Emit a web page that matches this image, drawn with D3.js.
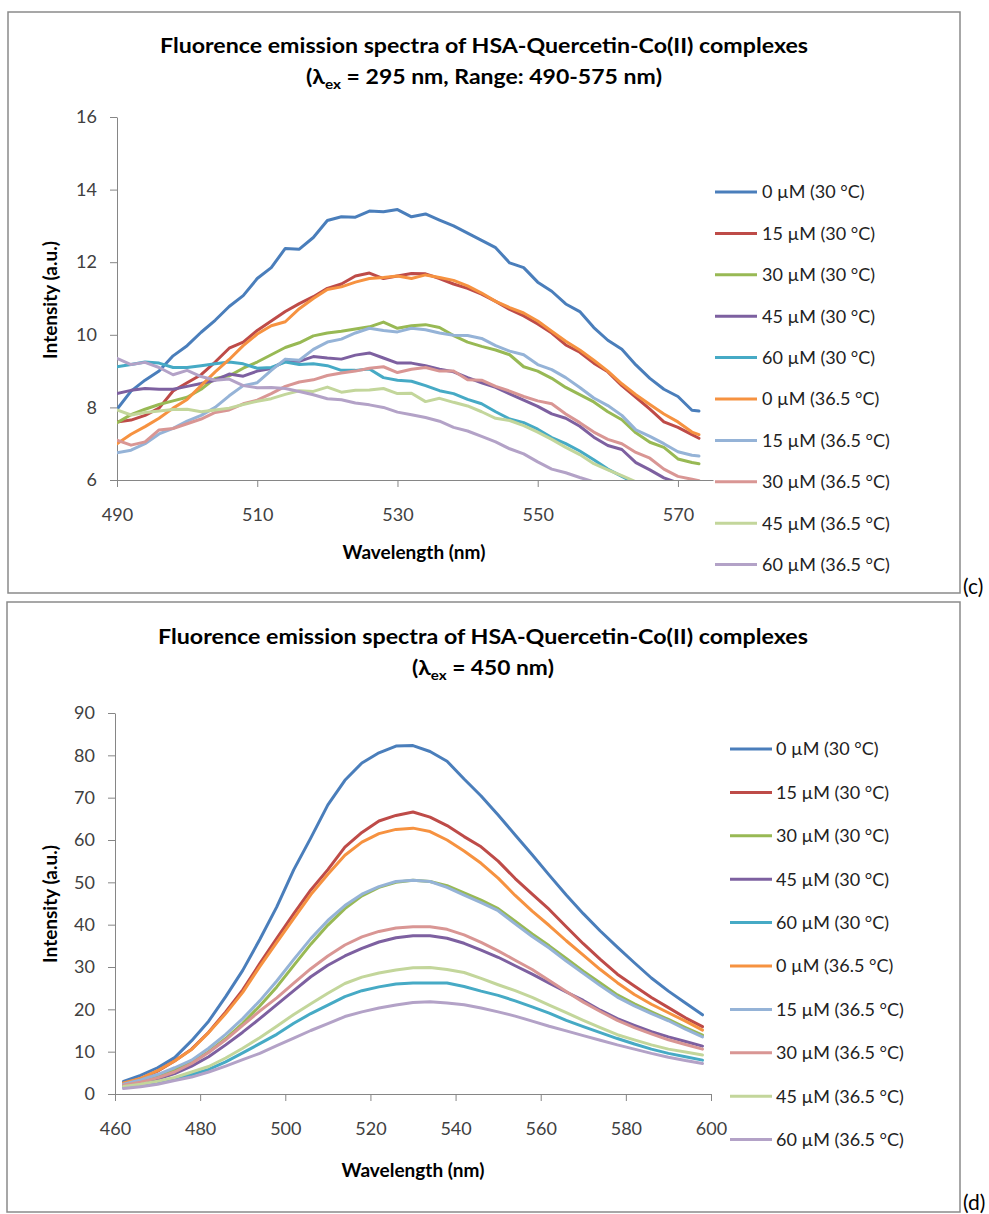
<!DOCTYPE html>
<html>
<head>
<meta charset="utf-8">
<script src="https://cdn.jsdelivr.net/npm/d3@7"></script>
<style>
  body { margin: 0; background: #fff; }
  svg text { font-family: Lato, "Liberation Sans", sans-serif; }
</style>
</head>
<body>
<svg id="fig" width="989" height="1214"></svg>
<script>
// legend labels and line colours (same for both panels)
const seriesNames = ["0 µM (30 °C)", "15 µM (30 °C)", "30 µM (30 °C)", "45 µM (30 °C)", "60 µM (30 °C)",
                     "0 µM (36.5 °C)", "15 µM (36.5 °C)", "30 µM (36.5 °C)", "45 µM (36.5 °C)", "60 µM (36.5 °C)"];
const seriesColors = ["#4a7ebb", "#be4b48", "#98b954", "#7d60a0", "#46aac5",
                      "#f69240", "#95b3d7", "#d99694", "#c3d69b", "#b3a2c7"];

// ---- panel (c): lambda_ex = 295 nm ----
const wlC = [490,492,494,496,498,500,502,504,506,508,510,512,514,516,518,520,522,524,526,528,530,
             532,534,536,538,540,542,544,546,548,550,552,554,556,558,560,562,564,566,568,570,572,573];
const c0_30  = [7.95,8.45,8.75,9.0,9.42,9.7,10.07,10.4,10.78,11.08,11.55,11.85,12.38,12.36,12.68,13.15,13.25,13.24,13.41,13.39,13.45,
                13.25,13.33,13.16,13.0,12.8,12.6,12.4,11.98,11.85,11.45,11.2,10.85,10.64,10.2,9.85,9.6,9.17,8.8,8.5,8.3,7.92,7.9];
const c15_30 = [7.6,7.65,7.78,7.98,8.45,8.68,8.9,9.25,9.63,9.8,10.12,10.38,10.64,10.86,11.05,11.28,11.4,11.62,11.7,11.55,11.62,
                11.69,11.68,11.55,11.4,11.28,11.12,10.92,10.7,10.52,10.3,10.05,9.72,9.52,9.22,8.98,8.6,8.28,7.95,7.6,7.45,7.25,7.15];
const c30_30 = [7.58,7.8,7.95,8.08,8.18,8.28,8.5,8.8,8.87,9.08,9.25,9.45,9.65,9.78,9.97,10.05,10.1,10.16,10.22,10.35,10.18,
                10.25,10.28,10.2,9.98,9.8,9.68,9.58,9.45,9.12,9.0,8.8,8.55,8.35,8.15,7.88,7.66,7.3,7.04,6.9,6.58,6.48,6.45];
const c45_30 = [8.38,8.47,8.52,8.5,8.5,8.58,8.66,8.75,8.92,8.86,9.0,9.07,9.28,9.27,9.4,9.36,9.33,9.44,9.5,9.36,9.22,
                9.22,9.15,9.05,8.98,8.82,8.68,8.55,8.37,8.2,8.03,7.82,7.7,7.48,7.18,6.95,6.84,6.48,6.28,6.06,5.92,5.78,5.7];
const c60_30 = [9.12,9.18,9.25,9.22,9.1,9.1,9.15,9.2,9.25,9.2,9.08,9.1,9.25,9.18,9.2,9.15,9.02,9.02,9.06,8.82,8.75,
                8.72,8.6,8.46,8.38,8.22,8.1,7.88,7.68,7.58,7.4,7.17,7.0,6.8,6.56,6.3,6.1,5.9,5.7,5.5,5.3,5.1,5.0];
const c0_36  = [7.0,7.26,7.47,7.7,7.98,8.22,8.6,8.98,9.32,9.7,10.02,10.25,10.36,10.72,11.0,11.25,11.32,11.45,11.55,11.58,11.62,
                11.55,11.65,11.58,11.5,11.35,11.15,10.92,10.75,10.6,10.38,10.1,9.82,9.58,9.3,9.0,8.65,8.35,8.08,7.82,7.6,7.32,7.25];
const c15_36 = [6.75,6.82,7.0,7.27,7.42,7.62,7.78,8.0,8.32,8.6,8.68,9.02,9.33,9.3,9.6,9.8,9.88,10.05,10.18,10.12,10.08,
                10.18,10.14,10.05,9.99,9.98,9.9,9.7,9.55,9.45,9.18,9.04,8.82,8.55,8.26,8.05,7.78,7.38,7.2,7.0,6.78,6.68,6.66];
const c30_36 = [7.1,6.96,7.05,7.38,7.42,7.55,7.68,7.86,7.93,8.1,8.2,8.38,8.58,8.7,8.76,8.88,8.95,9.0,9.08,9.12,8.96,
                9.05,9.1,9.0,9.0,8.76,8.75,8.58,8.45,8.3,8.18,8.1,7.82,7.58,7.32,7.12,7.0,6.76,6.6,6.3,6.1,6.02,5.98];
const c45_36 = [7.93,7.79,7.86,7.9,7.94,7.95,7.88,7.93,7.98,8.08,8.17,8.24,8.36,8.46,8.44,8.56,8.42,8.47,8.48,8.52,8.38,
                8.39,8.16,8.25,8.14,8.04,7.88,7.7,7.64,7.5,7.32,7.12,6.9,6.7,6.45,6.28,6.12,5.95,5.78,5.6,5.42,5.25,5.18];
const c60_36 = [9.35,9.18,9.24,9.1,8.9,9.02,8.85,8.75,8.78,8.6,8.54,8.55,8.52,8.44,8.35,8.24,8.21,8.12,8.07,8.0,7.87,
                7.8,7.72,7.62,7.45,7.35,7.2,7.05,6.86,6.72,6.5,6.3,6.2,6.07,5.95,5.8,5.65,5.5,5.35,5.2,5.05,4.9,4.85];
const xTicksC = [490, 510, 530, 550, 570];
const yTicksC = [6, 8, 10, 12, 14, 16];

// ---- panel (d): lambda_ex = 450 nm ----
const wlD = [462,466,470,474,478,482,486,490,494,498,502,506,510,514,518,522,526,530,534,538,542,
             546,550,554,558,562,566,570,574,578,582,586,590,594,598];
const d0_30  = [3.0,4.4,6.2,8.6,12.6,17.2,23.0,29.2,36.5,44.2,53.0,60.5,68.3,74.1,78.2,80.6,82.2,82.3,80.9,78.6,74.4,
                70.4,65.9,61.2,56.5,51.7,47.0,42.6,38.5,34.7,31.0,27.4,24.3,21.5,18.7];
const d15_30 = [2.5,3.6,5.4,7.8,10.6,14.6,19.4,24.6,30.8,36.8,42.6,48.2,53.0,58.3,61.8,64.5,65.8,66.6,65.4,63.4,60.8,
                58.4,55.0,50.9,47.2,43.6,39.5,35.5,31.8,28.3,25.5,22.8,20.4,18.0,15.9];
const d30_30 = [2.2,3.1,4.3,5.8,7.5,10.0,13.1,16.7,20.8,25.3,30.4,35.4,39.9,43.8,46.8,48.8,50.0,50.5,50.2,49.2,47.5,
                45.8,43.8,40.8,37.8,35.0,32.0,29.0,26.2,23.4,21.3,19.4,17.6,15.7,13.9];
const d45_30 = [2.0,2.6,3.5,4.8,6.6,8.8,11.6,14.6,17.8,21.1,24.4,27.7,30.4,32.6,34.4,35.9,36.9,37.4,37.4,36.8,35.6,
                34.0,32.3,30.3,28.3,26.2,24.1,22.1,19.8,17.8,16.2,14.7,13.5,12.4,11.3];
const d60_30 = [1.7,2.2,2.8,3.6,4.6,5.8,7.6,9.7,11.9,14.1,16.7,19.0,21.0,23.0,24.4,25.3,26.0,26.2,26.2,26.2,25.4,
                24.3,23.3,22.0,20.6,19.1,17.4,15.9,14.5,13.1,11.8,10.6,9.6,8.8,8.0];
const d0_36  = [2.6,3.7,5.5,7.8,10.5,14.5,19.0,24.0,30.1,35.8,41.5,47.1,51.9,56.4,59.5,61.5,62.5,62.8,62.0,60.0,57.4,
                54.5,51.0,46.9,43.2,39.8,36.2,32.8,29.4,26.3,23.5,21.2,19.2,17.2,15.1];
const d15_36 = [2.3,3.3,4.6,6.2,8.0,10.8,14.1,17.8,22.0,26.7,31.8,36.7,41.0,44.5,47.2,49.0,50.2,50.5,50.2,48.8,47.0,
                45.2,43.3,40.2,37.2,34.5,31.4,28.5,25.6,22.9,20.8,19.0,17.3,15.3,13.5];
const d30_36 = [2.1,2.8,3.8,5.2,7.2,9.8,12.8,16.2,19.6,22.7,26.2,29.6,32.6,35.2,37.1,38.4,39.2,39.5,39.5,38.9,37.6,
                35.8,33.8,31.6,29.4,26.8,24.2,21.7,19.5,17.4,15.7,14.2,12.8,11.7,10.6];
const d45_36 = [1.8,2.3,3.0,3.9,5.2,6.5,8.5,10.8,13.3,16.0,18.8,21.3,23.8,26.1,27.6,28.6,29.3,29.8,29.9,29.4,28.7,
                27.3,25.8,24.4,22.8,21.0,19.2,17.4,15.7,14.0,12.8,11.6,10.6,9.9,9.2];
const d60_36 = [1.3,1.7,2.3,3.2,4.0,5.2,6.6,8.1,9.6,11.4,13.2,15.0,16.6,18.3,19.4,20.3,21.0,21.6,21.8,21.5,21.1,
                20.3,19.4,18.4,17.2,16.0,14.9,13.8,12.7,11.6,10.6,9.6,8.7,7.9,7.2];
const xTicksD = [460, 480, 500, 520, 540, 560, 580, 600];
const yTicksD = [0, 10, 20, 30, 40, 50, 60, 70, 80, 90];

const svg = d3.select("#fig");

// layout of each panel (pixel positions only)
const panels = [
  {
    id: "c", wl: wlC,
    series: [c0_30, c15_30, c30_30, c45_30, c60_30, c0_36, c15_36, c30_36, c45_36, c60_36],
    xDomain: [490, 575], yDomain: [6, 16], xTicks: xTicksC, yTicks: yTicksC,
    box: { x: 8, y: 12, w: 952, h: 581 },
    plot: { left: 117, right: 713, top: 117, bottom: 480 },
    title1Y: 53, title2Y: 84, titleX: 484, title1W: 648, title2W: 356,
    title2: ["(λ", "ex", " = 295 nm, Range: 490-575 nm)"],
    legend: { x1: 715, x2: 757, tx: 762, y0: 192, dy: 41.4 },
    xLabel: { x: 414, y: 559 }, yLabel: { x: 50, y: 300 },
    tag: { x: 963, y: 594, text: "(c)" }
  },
  {
    id: "d", wl: wlD,
    series: [d0_30, d15_30, d30_30, d45_30, d60_30, d0_36, d15_36, d30_36, d45_36, d60_36],
    xDomain: [460, 600], yDomain: [0, 90], xTicks: xTicksD, yTicks: yTicksD,
    box: { x: 7, y: 602, w: 953, h: 610 },
    plot: { left: 115, right: 711, top: 713, bottom: 1094 },
    title1Y: 644, title2Y: 675, titleX: 483, title1W: 650, title2W: 142,
    title2: ["(λ", "ex", " = 450 nm)"],
    legend: { x1: 730, x2: 772, tx: 776, y0: 749, dy: 43.4 },
    xLabel: { x: 413, y: 1177 }, yLabel: { x: 50, y: 904 },
    tag: { x: 963, y: 1210, text: "(d)" }
  }
];

panels.forEach(p => {
  const g = svg.append("g");

  g.append("rect")
    .attr("x", p.box.x).attr("y", p.box.y)
    .attr("width", p.box.w).attr("height", p.box.h)
    .attr("fill", "#fff")
    .attr("stroke", "#8a8a8a")
    .attr("stroke-width", 1.5);

  // title, two lines, the second one with subscript "ex"
  g.append("text")
    .attr("x", p.titleX).attr("y", p.title1Y)
    .attr("text-anchor", "middle")
    .attr("textLength", p.title1W).attr("lengthAdjust", "spacingAndGlyphs")
    .style("font-size", "21px").style("font-weight", "bold")
    .text("Fluorence emission spectra of HSA-Quercetin-Co(II) complexes");

  const t2 = g.append("text")
    .attr("x", p.titleX).attr("y", p.title2Y)
    .attr("text-anchor", "middle")
    .attr("textLength", p.title2W).attr("lengthAdjust", "spacingAndGlyphs")
    .style("font-size", "21px").style("font-weight", "bold");
  t2.append("tspan").text(p.title2[0]);
  t2.append("tspan").attr("dy", 5).style("font-size", "14px").text(p.title2[1]);
  t2.append("tspan").attr("dy", -5).text(p.title2[2]);

  const x = d3.scaleLinear().domain(p.xDomain).range([p.plot.left, p.plot.right]);
  const y = d3.scaleLinear().domain(p.yDomain).range([p.plot.bottom, p.plot.top]);

  const yAxis = g.append("g")
    .attr("transform", `translate(${p.plot.left},0)`)
    .call(d3.axisLeft(y).tickValues(p.yTicks).tickSize(7).tickSizeOuter(0).tickPadding(13));
  const xAxis = g.append("g")
    .attr("transform", `translate(0,${p.plot.bottom})`)
    .call(d3.axisBottom(x).tickValues(p.xTicks).tickSize(7).tickSizeOuter(0).tickPadding(21));

  [xAxis, yAxis].forEach(a => {
    a.select(".domain").attr("stroke", "#868686");
    a.selectAll(".tick line").attr("stroke", "#868686");
    a.selectAll(".tick text")
      .attr("fill", "#404040")
      .style("font-size", "18px")
      .style("font-family", "Lato, 'Liberation Sans', sans-serif");
  });

  g.append("clipPath").attr("id", "clip-" + p.id)
    .append("rect")
    .attr("x", p.plot.left).attr("y", p.plot.top - 5)
    .attr("width", p.plot.right - p.plot.left + 5)
    .attr("height", p.plot.bottom - p.plot.top + 5);

  const line = d3.line()
    .x((d, i) => x(p.wl[i]))
    .y(d => y(d));

  g.append("g").attr("clip-path", `url(#clip-${p.id})`)
    .selectAll("path")
    .data(p.series)
    .enter().append("path")
    .attr("d", line)
    .attr("fill", "none")
    .attr("stroke", (d, i) => seriesColors[i])
    .attr("stroke-width", 3)
    .attr("stroke-linejoin", "round")
    .attr("stroke-linecap", "round");

  // legend
  const lg = g.append("g").selectAll("g")
    .data(seriesNames)
    .enter().append("g")
    .attr("transform", (d, i) => `translate(0,${p.legend.y0 + i * p.legend.dy})`);
  lg.append("line")
    .attr("x1", p.legend.x1).attr("x2", p.legend.x2)
    .attr("stroke", (d, i) => seriesColors[i])
    .attr("stroke-width", 3);
  lg.append("text")
    .attr("x", p.legend.tx).attr("dy", "0.36em")
    .attr("fill", "#222")
    .style("font-size", "18px")
    .text(d => d);

  // axis titles
  g.append("text")
    .attr("x", p.xLabel.x).attr("y", p.xLabel.y)
    .attr("text-anchor", "middle")
    .style("font-size", "19px").style("font-weight", "bold")
    .text("Wavelength (nm)");
  g.append("text")
    .attr("transform", `translate(${p.yLabel.x},${p.yLabel.y}) rotate(-90)`)
    .attr("text-anchor", "middle")
    .attr("dy", "0.35em")
    .style("font-size", "19px").style("font-weight", "bold")
    .text("Intensity (a.u.)");

  svg.append("text")
    .attr("x", p.tag.x).attr("y", p.tag.y)
    .style("font-size", "21px")
    .text(p.tag.text);
});
</script>
</body>
</html>
